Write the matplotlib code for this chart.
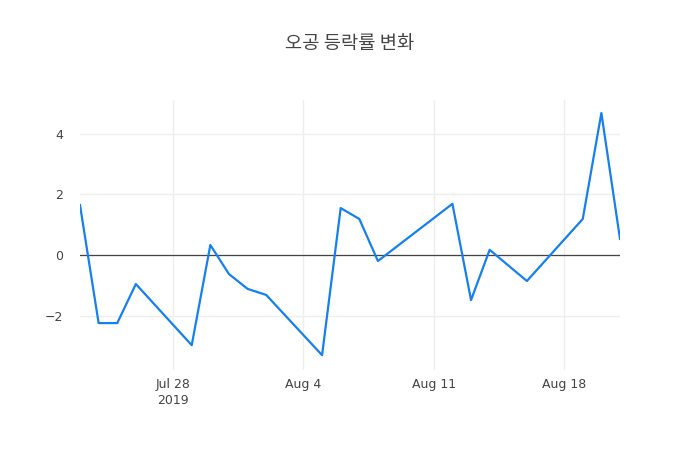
import pandas as pd
import matplotlib.pyplot as plt

plt.rcParams['font.family'] = ['DejaVu Sans', 'Noto Sans CJK KR']

# trading days and daily change (%)
dates = ['2019-07-23', '2019-07-24', '2019-07-25', '2019-07-26', '2019-07-29',
         '2019-07-30', '2019-07-31', '2019-08-01', '2019-08-02', '2019-08-05',
         '2019-08-06', '2019-08-07', '2019-08-08', '2019-08-12', '2019-08-13',
         '2019-08-14', '2019-08-16', '2019-08-19', '2019-08-20', '2019-08-21']
changes = [1.65, -2.25, -2.25, -0.96, -2.98,
           0.33, -0.63, -1.12, -1.32, -3.31,
           1.55, 1.19, -0.20, 1.69, -1.49,
           0.17, -0.86, 1.19, 4.69, 0.53]

tick_dates = ['2019-07-28', '2019-08-04', '2019-08-11', '2019-08-18']
tick_labels = ['Jul 28\n2019', 'Aug 4', 'Aug 11', 'Aug 18']
y_ticks = [-2, 0, 2, 4]
y_labels = ['\u22122', '0', '2', '4']

x = pd.to_datetime(dates)

fig = plt.figure(figsize=(7, 4.5), dpi=100)
ax = fig.add_axes([80 / 700, 80 / 450, 540 / 700, 270 / 450])

ax.plot(x, changes, color='#1580ee', linewidth=1.6, zorder=3)
ax.axhline(0, color='#444444', linewidth=0.9, zorder=2)

ax.set_xlim(x[0], x[-1])
ax.set_ylim(-3.80, 5.12)

ax.set_xticks(pd.to_datetime(tick_dates))
ax.set_xticklabels(tick_labels, linespacing=1.25)
ax.set_yticks(y_ticks)
ax.set_yticklabels(y_labels)

ax.grid(True, color='#eeeeee', linewidth=1, zorder=0)
ax.set_axisbelow(True)
for s in ax.spines.values():
    s.set_visible(False)
ax.tick_params(length=0, labelsize=9, colors='#444444')
ax.tick_params(axis='x', pad=6)
ax.tick_params(axis='y', pad=12)

fig.text(0.5, 1 - 43 / 450, '오공 등락률 변화', ha='center', va='center',
         fontsize=13.5, color='#444444', family=['Noto Sans CJK KR'])

fig.savefig('out.png', dpi=100)
